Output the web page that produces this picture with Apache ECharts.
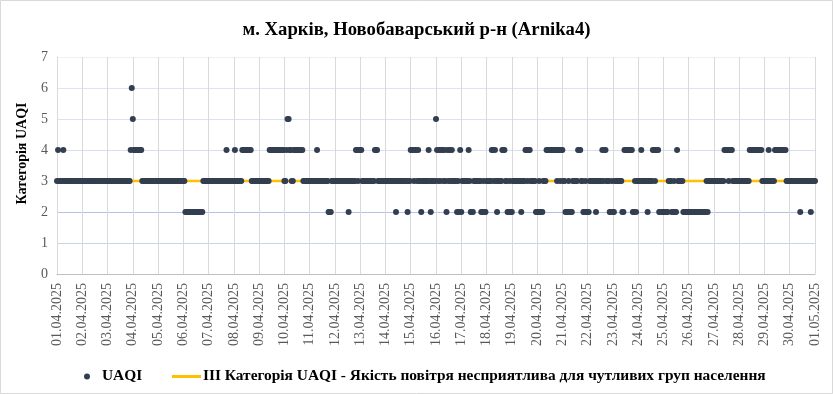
<!DOCTYPE html>
<html>
<head>
<meta charset="utf-8">
<script src="https://cdn.jsdelivr.net/npm/echarts@6/dist/echarts.min.js"></script>
<style>
html,body{margin:0;padding:0;background:#fff;}
#chart{width:833px;height:394px;}
</style>
</head>
<body>
<div id="chart"></div>
<script>
// Chart texts
var chartTitle = 'м. Харків, Новобаварський р-н (Arnika4)';
var yAxisTitle = 'Категорія UAQI';
var seriesName = 'UAQI';
var thresholdName = 'III Категорія UAQI - Якість повітря несприятлива для чутливих груп населення';

// Tick labels (one per day, hours 0, 24, 48 ...)
var dateLabels = ['01.04.2025','02.04.2025','03.04.2025','04.04.2025','05.04.2025','06.04.2025',
  '07.04.2025','08.04.2025','09.04.2025','10.04.2025','11.04.2025','12.04.2025','13.04.2025',
  '14.04.2025','15.04.2025','16.04.2025','17.04.2025','18.04.2025','19.04.2025','20.04.2025',
  '21.04.2025','22.04.2025','23.04.2025','24.04.2025','25.04.2025','26.04.2025','27.04.2025',
  '28.04.2025','29.04.2025','30.04.2025','01.05.2025'];

// Hourly UAQI category, one string of 24 hourly values per day
var hourlyByDay = [
  '343333 433333 333333 333333', // 01.04
  '333333 333333 333333 333333', // 02.04
  '333333 333333 333333 333346', // 03.04
  '544444 444333 333333 333333', // 04.04
  '333333 333333 333333 333333', // 05.04
  '332222 222222 222222 233333', // 06.04
  '333333 333333 333334 333333', // 07.04
  '343333 334444 444443 333333', // 08.04
  '333333 333344 444444 444444', // 09.04
  '334554 433444 444444 333333', // 10.04
  '333333 343333 333333 222333', // 11.04
  '333333 333333 323333 334434', // 12.04
  '443333 333333 334443 333333', // 13.04
  '333333 333323 333333 333233', // 14.04
  '444344 343323 333334 323333', // 15.04
  '543434 434324 343433 332324', // 16.04
  '233333 343222 333333 322322', // 17.04
  '333334 434323 333444 332232', // 18.04
  '233333 333233 344344 333332', // 19.04
  '223222 333444 444444 434434', // 20.04
  '433222 322233 333444 332232', // 21.04
  '223333 332333 334344 333223', // 22.04
  '223333 333224 444444 422323', // 23.04
  '333433 333233 334434 442222', // 24.04
  '222223 332232 243333 322222', // 25.04
  '222222 222222 222223 233333', // 26.04
  '333333 333344 443444 333333', // 27.04
  '333333 333344 444444 444433', // 28.04
  '333343 333344 444444 444333', // 29.04
  '333333 333323 333333 332333', // 30.04
  '3'                            // 01.05 00:00
];

// Threshold category (III)
var thresholdValue = 3;
var yTicks = [0,1,2,3,4,5,6,7];

var hourly = hourlyByDay.join('').replace(/ /g,'').split('').map(Number);
var scatterData = hourly.map(function(v,i){ return [i, v]; });
var lastHour = hourly.length - 1;
var lineData = [[0, thresholdValue], [lastHour, thresholdValue]];

var serif = 'Liberation Serif, Times New Roman, serif';
var chart = echarts.init(document.getElementById('chart'), null, {renderer:'canvas'});
chart.setOption({
  animation: false,
  backgroundColor: '#fff',
  title: {
    text: chartTitle, left: 'center', top: 16,
    textStyle: {fontFamily: serif, fontWeight: 'bold', fontSize: 18.7, color: '#000'}
  },
  graphic: [{
    type: 'rect', silent: true, z: 100,
    shape: {x: 0.5, y: 0.5, width: 832, height: 393},
    style: {fill: 'none', stroke: '#D9D9D9', lineWidth: 1}
  }],
  legend: [{
    left: 79, top: 364, icon: 'circle', itemWidth: 6, itemHeight: 6,
    data: [seriesName],
    textStyle: {fontFamily: serif, fontWeight: 'bold', fontSize: 15.4, color: '#000', padding: [0,0,0,7]}
  }, {
    left: 167, top: 364, itemWidth: 29, itemHeight: 3,
    data: [{name: thresholdName, icon: 'rect'}],
    textStyle: {fontFamily: serif, fontWeight: 'bold', fontSize: 15.4, color: '#000', padding: [0,0,0,-3]}
  }],
  grid: {left: 57, right: 18, top: 57, bottom: 120, containLabel: false},
  xAxis: {
    type: 'value', min: 0, max: 720, interval: 24,
    axisLine: {show: true, lineStyle: {color: '#BFBFBF'}},
    axisTick: {show: false},
    splitLine: {show: true, lineStyle: {color: '#D9D9D9', width: 1}},
    axisLabel: {
      rotate: 90, margin: 9, color: '#595959', fontFamily: serif, fontSize: 14,
      formatter: function(v){ return dateLabels[Math.round(v/24)] || ''; }
    }
  },
  yAxis: {
    type: 'value', min: yTicks[0], max: yTicks[yTicks.length-1], interval: 1,
    name: yAxisTitle, nameLocation: 'middle', nameGap: 28,
    nameTextStyle: {fontFamily: serif, fontWeight: 'bold', fontSize: 14, color: '#000', padding: [0,0,0,24]},
    axisLine: {show: true, lineStyle: {color: '#D9D9D9'}},
    axisTick: {show: false},
    splitLine: {show: true, lineStyle: {color: ['#BFBFBF','#C9D3EA','#B4C4E6','#D3DBEE','#D8DEF0','#DCE2F1','#DFE4F2','#EEF0F5']}},
    axisLabel: {margin: 9, color: '#595959', fontFamily: serif, fontSize: 14}
  },
  series: [{
    name: thresholdName, type: 'line', data: lineData, symbol: 'none',
    lineStyle: {color: '#FFC000', width: 2.5}, itemStyle: {color: '#FFC000'}, z: 2
  }, {
    name: seriesName, type: 'scatter', data: scatterData, symbol: 'circle', symbolSize: 6,
    itemStyle: {color: '#333F50', opacity: 1}, z: 3
  }]
});
</script>
</body>
</html>
